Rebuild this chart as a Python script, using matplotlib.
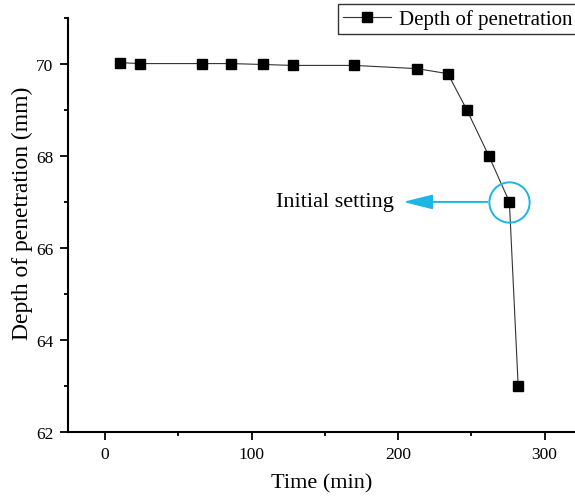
import matplotlib.pyplot as plt
from matplotlib.ticker import MultipleLocator

plt.rcParams['font.family'] = ['Liberation Serif', 'DejaVu Serif']

# time (min) and depth of penetration (mm)
time_min = [10, 24, 66, 86, 108, 128, 170, 213, 234, 247, 262, 276, 282]
depth_mm = [70.03, 70.01, 70.01, 70.01, 69.99, 69.97, 69.97, 69.90, 69.79,
            69.00, 68.00, 67.00, 63.00]

init_time = 276
init_depth = 67.0

fig = plt.figure(figsize=(5.75, 5.02), dpi=100)
ax = fig.add_axes([0.1183, 0.138, 0.8817, 0.824])

ax.plot(time_min, depth_mm, color='#333333', lw=0.8, marker='s', ms=6.5,
        mfc='black', mec='black', label='Depth of penetration')

# cyan circle around the initial setting point + arrow to the label
cyan = '#1cb6e6'
ax.plot([init_time], [init_depth], marker='o', ms=29, mfc='none', mec=cyan,
        mew=1.4, ls='none')
ax.annotate('', xy=(203.5, init_depth), xytext=(261, init_depth),
            arrowprops=dict(arrowstyle='-|>,head_length=1.8,head_width=0.45',
                            color=cyan, lw=1.4, shrinkA=0, shrinkB=0,
                            mutation_scale=10))
ax.text(197, init_depth, 'Initial setting', fontsize=16, ha='right',
        va='center')

ax.set_xlim(-25.3, 320.8)
ax.set_ylim(62, 71)
ax.xaxis.set_major_locator(MultipleLocator(100))
ax.xaxis.set_minor_locator(MultipleLocator(50))
ax.yaxis.set_major_locator(MultipleLocator(2))
ax.yaxis.set_minor_locator(MultipleLocator(1))
ax.tick_params(which='major', length=5.5, width=1.3, labelsize=12.5, pad=5)
ax.tick_params(which='minor', length=3, width=1.3)

for side in ['top', 'right']:
    ax.spines[side].set_visible(False)
for side in ['left', 'bottom']:
    ax.spines[side].set_linewidth(1.5)

ax.set_xlabel('Time (min)', fontsize=16, labelpad=8)
ax.set_ylabel('Depth of penetration (mm)', fontsize=17)
ax.yaxis.set_label_coords(-0.07, 0.53)

ax.legend(loc='upper left', bbox_to_anchor=(0.588, 0.99),
          bbox_transform=fig.transFigure, fontsize=15, frameon=True,
          fancybox=False, edgecolor='black', handlelength=2.3,
          borderpad=0.25, handletextpad=0.35, borderaxespad=0)

fig.savefig('out.png', dpi=100)
